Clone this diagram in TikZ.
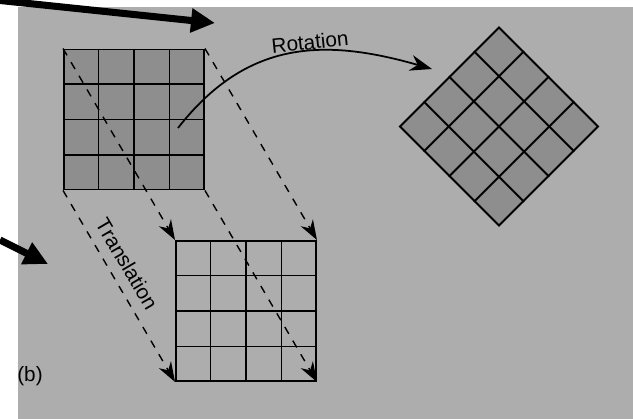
\documentclass[tikz,border=0pt]{standalone}
\usepackage{fontspec}
\setmainfont{Liberation Sans}
\usepackage{tikz}
\usetikzlibrary{arrows.meta,calc}
\definecolor{paper}{HTML}{ADADAD}
\definecolor{tone}{HTML}{8E8E8E}
\tikzset{
  sq/.style={rectangle, draw=black, line width=1.1pt, minimum size=2.8cm,
             inner sep=0pt},                                        % 4x4 tile block
  gl/.style={draw=black, line width=1.1pt},                          % inner grid line
  tr/.style={draw=black, line width=0.8pt, dash pattern=on 4.5pt off 4.5pt,
             -{Stealth[length=4mm, width=2.8mm]}},                   % translation path
  rt/.style={draw=black, line width=1pt, -{Stealth[length=4.4mm, width=3.2mm]}}, % rotation path
  ba/.style={draw=black, line width=4pt, -{Triangle[length=4.8mm, width=4.6mm]}}, % pointer arrow
  lab/.style={font=\fontsize{11.8}{14}\selectfont, inner sep=1pt},
}
\begin{document}
\begin{tikzpicture}
  \useasboundingbox (0,0) rectangle (12.66,8.38);
  \fill[white] (0,0) rectangle (12.66,8.38);
  \fill[paper] (0.36,0) rectangle (12.66,8.24);

  \node[sq, fill=tone] (src) at (2.68,5.99) {};
  \node[sq] (dst) at (4.92,2.16) {};
  \node[sq, fill=tone, rotate=45] (rot) at (9.98,5.85) {};
  \foreach \g in {src,dst,rot}
    \foreach \t in {0.25,0.5,0.75} {
      \draw[gl] ($(\g.north west)!\t!(\g.north east)$) -- ($(\g.south west)!\t!(\g.south east)$);
      \draw[gl] ($(\g.north west)!\t!(\g.south west)$) -- ($(\g.north east)!\t!(\g.south east)$);
    }

  \foreach \a in {north west,north east,south west,south east}
    \draw[tr] (src.\a) -- (dst.\a);

  \coordinate (rs) at (3.56,5.82);
  \coordinate (re) at (8.64,7.00);
  \draw[rt] (rs) to[out=52, in=164, looseness=1.1] (re);

  \node[lab, rotate=6] (rotlbl) at (6.20,7.54) {Rotation};
  \node[lab, rotate=-59.6] (trlbl) at (2.54,3.10) {Translation};
  \node[lab] (part) at (0.60,0.86) {(b)};

  \coordinate (p1) at (0,8.37);
  \coordinate (q1) at (4.30,7.92);
  \coordinate (p2) at (0,3.58);
  \coordinate (q2) at (0.96,3.10);
  \draw[ba] (p1) -- (q1);
  \draw[ba] (p2) -- (q2);
\end{tikzpicture}
\end{document}
